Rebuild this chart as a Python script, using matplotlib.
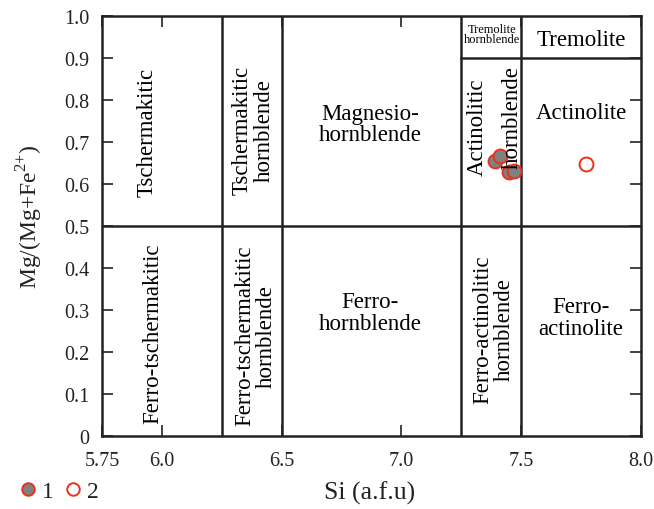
import matplotlib.pyplot as plt
from matplotlib.lines import Line2D

plt.rcParams['font.family'] = ['Liberation Serif', 'DejaVu Serif']
plt.rcParams['mathtext.fontset'] = 'custom'
plt.rcParams['mathtext.rm'] = 'Liberation Serif'

# Sample points (Si, Mg/(Mg+Fe2+))
si_1 = [7.39, 7.41, 7.45, 7.47]
mg_1 = [0.655, 0.667, 0.629, 0.630]
si_2 = [7.77]
mg_2 = [0.648]

x_ticks = [5.75, 6.0, 6.5, 7.0, 7.5, 8.0]
x_tick_labels = ['5.75', '6.0', '6.5', '7.0', '7.5', '8.0']
y_ticks = [0, 0.1, 0.2, 0.3, 0.4, 0.5, 0.6, 0.7, 0.8, 0.9, 1.0]
y_tick_labels = ['0', '0.1', '0.2', '0.3', '0.4', '0.5', '0.6', '0.7', '0.8', '0.9', '1.0']

# Field boundaries
field_x = [6.25, 6.5, 7.25, 7.5]

fig = plt.figure(figsize=(6.54, 5.10), dpi=100)
ax = fig.add_axes([102 / 654, 73 / 510, 539 / 654, 420 / 510])

lw = 1.8
line_c = '#222222'
for x in field_x:
    ax.plot([x, x], [0, 1], color=line_c, lw=lw)
ax.plot([5.75, 8.0], [0.5, 0.5], color=line_c, lw=lw)
ax.plot([7.25, 8.0], [0.9, 0.9], color=line_c, lw=lw)

fs = 16.5
ls = 1.05
ax.text(5.94, 0.726, 'Tschermakitic', rotation=90, ha='center', va='center', fontsize=fs)
ax.text(6.38, 0.73, 'Tschermakitic\nhornblende', rotation=90, ha='center', va='center',
        fontsize=fs, linespacing=ls)
ax.text(6.87, 0.743, 'Magnesio-\nhornblende', ha='center', va='center', fontsize=fs,
        linespacing=ls)
ax.text(7.315, 0.738, 'Actinolitic', rotation=90, ha='center', va='center', fontsize=fs)
ax.text(7.461, 0.76, 'hornblende', rotation=90, ha='center', va='center', fontsize=fs)
ax.text(7.378, 0.957, 'Tremolite\nhornblende', ha='center', va='center', fontsize=9,
        linespacing=0.85)
ax.text(7.75, 0.945, 'Tremolite', ha='center', va='center', fontsize=fs)
ax.text(7.75, 0.77, 'Actinolite', ha='center', va='center', fontsize=fs)
ax.text(5.963, 0.245, 'Ferro-tschermakitic', rotation=90, ha='center', va='center',
        fontsize=fs)
ax.text(6.39, 0.24, 'Ferro-tschermakitic\nhornblende', rotation=90, ha='center',
        va='center', fontsize=fs, linespacing=ls)
ax.text(6.87, 0.295, 'Ferro-\nhornblende', ha='center', va='center', fontsize=fs,
        linespacing=ls)
ax.text(7.385, 0.255, 'Ferro-actinolitic\nhornblende', rotation=90, ha='center',
        va='center', fontsize=fs, linespacing=ls)
ax.text(7.75, 0.283, 'Ferro-\nactinolite', ha='center', va='center', fontsize=fs,
        linespacing=ls)

ax.plot(si_1, mg_1, 'o', ms=10, mfc='#808080', mec='#e8321e', mew=1.4, ls='none')
ax.plot(si_2, mg_2, 'o', ms=10, mfc='none', mec='#e8321e', mew=1.4, ls='none')

ax.set_xlim(5.75, 8.0)
ax.set_ylim(0, 1.0)
ax.set_xticks(x_ticks)
ax.set_xticklabels(x_tick_labels)
ax.set_yticks(y_ticks)
ax.set_yticklabels(y_tick_labels)
ax.tick_params(axis='both', direction='in', length=8, width=1.2, labelsize=14.5,
               right=True, top=True, colors=line_c)
ax.tick_params(axis='x', pad=11)
ax.tick_params(axis='y', pad=9)
for sp in ax.spines.values():
    sp.set_linewidth(lw)
    sp.set_color(line_c)

fig.text(370 / 654, 1 - 493 / 510, 'Si (a.f.u)', ha='center', va='center', fontsize=18.5,
         color=line_c)
fig.text(30 / 654, 1 - 217 / 510, 'Mg/(Mg+Fe$^{2{+}}$)', rotation=90, ha='center',
         va='center', fontsize=17, color=line_c)

handles = [
    Line2D([], [], marker='o', ls='none', ms=9, mfc='#808080', mec='#e8321e', mew=1.4),
    Line2D([], [], marker='o', ls='none', ms=9, mfc='none', mec='#e8321e', mew=1.4),
]
fig.legend(handles, ['1', '2'], loc='center left', bbox_to_anchor=(-0.008, 0.034), ncol=2,
           frameon=False, fontsize=17, handletextpad=0.1, columnspacing=0.3,
           handlelength=1.0, labelcolor=line_c)

fig.savefig('out.png', dpi=100)
